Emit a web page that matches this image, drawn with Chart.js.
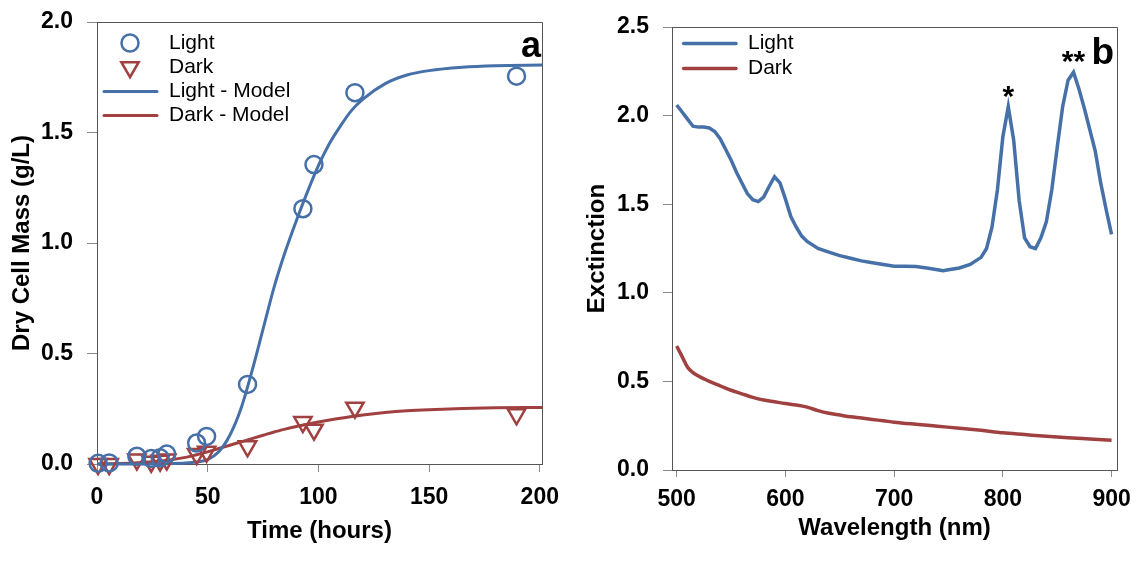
<!DOCTYPE html>
<html><head><meta charset="utf-8">
<script src="https://cdn.jsdelivr.net/npm/chart.js@4/dist/chart.umd.min.js"></script>
<style>
html,body{margin:0;padding:0;background:#fff;}
#wrap{position:relative;width:1144px;height:576px;overflow:hidden;}
.c{position:absolute;top:0;width:572px;height:576px;}
</style></head><body>
<div id="wrap">
<div class="c" style="left:0"><canvas id="ca" width="572" height="576"></canvas></div>
<div class="c" style="left:572px"><canvas id="cb" width="572" height="576"></canvas></div>
</div>
<script>
// ---------- Panel a data ----------
const sampleTime = [0.5, 5.5, 18, 24.5, 28.5, 31.5, 45, 49.5, 68, 93, 98, 116.5, 189.5];
const lightMass  = [0.003, 0.005, 0.035, 0.025, 0.028, 0.045, 0.095, 0.125, 0.36, 1.155, 1.355, 1.68, 1.755];
const darkMass   = [0.0, 0.0, 0.02, 0.01, 0.015, 0.02, 0.045, 0.055, 0.08, 0.19, 0.155, 0.255, 0.225];
const modelTime  = [0, 10, 20, 30, 40, 45, 50, 55, 60, 65, 70, 75, 80, 85, 90, 95, 100, 105, 110, 115, 120, 130, 140, 150, 165, 180, 201];
const lightModel = [0, 0, 0, 0.001, 0.004, 0.009, 0.02, 0.055, 0.13, 0.25, 0.42, 0.61, 0.8, 0.96, 1.1, 1.23, 1.35, 1.45, 1.53, 1.6, 1.65, 1.72, 1.76, 1.78, 1.795, 1.802, 1.805];
const darkModel  = [0, 0.002, 0.007, 0.015, 0.03, 0.042, 0.055, 0.07, 0.085, 0.1, 0.115, 0.13, 0.145, 0.158, 0.17, 0.18, 0.19, 0.199, 0.207, 0.215, 0.222, 0.233, 0.241, 0.246, 0.251, 0.254, 0.256];
const timeTicks  = [0, 50, 100, 150, 200];
const massTicks  = [0, 0.5, 1.0, 1.5, 2.0];
const legendA    = ['Light', 'Dark', 'Light - Model', 'Dark - Model'];

// ---------- Panel b data ----------
const wlLight  = [500,505,510,515,520,525,530,535,540,545,550,555,560,565,570,575,580,585,590,595,600,605,610,615,620,630,640,650,660,670,680,690,700,710,720,730,740,745,750,760,770,775,780,785,790,795,800,805,810,815,820,825,830,835,840,845,850,855,860,865,870,875,880,885,890,895,900];
const extLight = [2.06,2.02,1.98,1.94,1.935,1.935,1.93,1.91,1.87,1.81,1.75,1.68,1.62,1.56,1.525,1.515,1.54,1.6,1.655,1.62,1.53,1.43,1.37,1.32,1.29,1.25,1.23,1.21,1.195,1.18,1.17,1.16,1.15,1.15,1.148,1.14,1.13,1.125,1.13,1.14,1.16,1.18,1.2,1.25,1.37,1.58,1.88,2.05,1.86,1.52,1.31,1.26,1.25,1.31,1.4,1.58,1.82,2.05,2.2,2.245,2.15,2.04,1.92,1.8,1.62,1.47,1.33];
const wlDark   = [500,505,510,515,520,530,540,550,560,570,580,590,600,610,620,630,640,650,660,670,680,690,700,720,740,760,780,800,820,840,860,880,900];
const extDark  = [0.70,0.64,0.58,0.55,0.53,0.50,0.475,0.45,0.43,0.41,0.395,0.385,0.375,0.367,0.355,0.335,0.32,0.31,0.30,0.293,0.285,0.278,0.27,0.258,0.247,0.236,0.224,0.21,0.2,0.19,0.182,0.175,0.168];
const wlTicks  = [500, 600, 700, 800, 900];
const extTicks = [0, 0.5, 1.0, 1.5, 2.0, 2.5];
const legendB  = ['Light', 'Dark'];
const peakMarks = [{wl: 805, text: '*'}, {wl: 865, text: '**'}];

const BLUE = '#4670a8', RED = '#a04040';
const FAM = '"Liberation Sans", Arial, sans-serif';
const toXY = (xs, ys) => xs.map((x, i) => ({x, y: ys[i]}));

const framePlugin = {
  id: 'frame',
  beforeDatasetsDraw(chart) {
    const {ctx, chartArea: a} = chart;
    ctx.save(); ctx.strokeStyle = '#555'; ctx.lineWidth = 1;
    ctx.beginPath();
    ctx.moveTo(a.left, a.top + 0.5); ctx.lineTo(a.right + 0.5, a.top + 0.5); ctx.lineTo(a.right + 0.5, a.bottom);
    ctx.stroke(); ctx.restore();
  }
};

const legendPlugin = {
  id: 'inlineLegend',
  afterDatasetsDraw(chart, args, o) {
    if (!o || !o.items) return;
    const {ctx, chartArea: a} = chart;
    ctx.save();
    o.items.forEach((it, i) => {
      const ds = chart.data.datasets[it.ds];
      const y = a.top + o.top + i * o.gap;
      if (it.line) {
        ctx.strokeStyle = ds.borderColor; ctx.lineWidth = ds.borderWidth; ctx.lineCap = 'round';
        ctx.beginPath(); ctx.moveTo(a.left + o.lineStart, y); ctx.lineTo(a.left + o.lineEnd, y); ctx.stroke();
      } else {
        ctx.strokeStyle = ds.borderColor; ctx.lineWidth = ds.borderWidth; ctx.fillStyle = 'rgba(0,0,0,0)';
        Chart.helpers.drawPoint(ctx, {pointStyle: ds.pointStyle, rotation: ds.pointRotation || 0, radius: ds.pointRadius, borderWidth: ds.borderWidth}, a.left + o.markerX, y);
      }
      ctx.fillStyle = '#000'; ctx.font = o.font; ctx.textBaseline = 'middle'; ctx.textAlign = 'left';
      ctx.fillText(it.label, a.left + o.textX, y);
    });
    ctx.restore();
  }
};

const notesPlugin = {
  id: 'notes',
  afterDatasetsDraw(chart, args, o) {
    if (!o) return;
    const {ctx, chartArea: a} = chart;
    ctx.save(); ctx.fillStyle = '#000';
    if (o.letter) {
      ctx.font = 'bold ' + o.letterSize + 'px ' + FAM; ctx.textAlign = 'right'; ctx.textBaseline = 'alphabetic';
      ctx.fillText(o.letter, a.right - o.letterRight, a.top + o.letterBase);
    }
    if (o.peaks) {
      const ds = chart.data.datasets[0].data;
      ctx.font = 'bold 30px ' + FAM; ctx.textAlign = 'center'; ctx.textBaseline = 'alphabetic';
      o.peaks.forEach(p => {
        const pt = ds.find(d => d.x === p.wl);
        const px = chart.scales.x.getPixelForValue(pt.x), py = chart.scales.y.getPixelForValue(pt.y);
        ctx.fillText(p.text, px, py - 1);
      });
    }
    ctx.restore();
  }
};

function axis(min, max, tickVals, fmt, opts) {
  return {
    type: 'linear', min, max,
    afterBuildTicks: s => { s.ticks = tickVals.map(v => ({value: v})); },
    afterFit: s => {
      if (opts.w !== undefined) s.width = opts.w;
      if (opts.h !== undefined) s.height = opts.h;
      s.paddingTop = 0; s.paddingBottom = 0; s.paddingLeft = 0; s.paddingRight = 0;
    },
    border: {display: true, color: '#555', width: 1},
    grid: {display: true, drawOnChartArea: false, drawTicks: true, tickLength: opts.tick, color: '#8a8a8a', lineWidth: 1},
    ticks: {color: '#000', font: {family: FAM, size: 23, weight: 'bold'}, padding: opts.pad, autoSkip: false, maxRotation: 0, callback: fmt},
    title: {display: true, text: opts.title, color: '#000', font: {family: FAM, size: 24, weight: 'bold'}, padding: opts.tpad}
  };
}

Chart.defaults.font.family = FAM;

new Chart(document.getElementById('ca'), {
  type: 'scatter',
  data: {datasets: [
    {label: legendA[0], data: toXY(sampleTime, lightMass), pointStyle: 'circle', pointRadius: 8.5, borderWidth: 2.5, borderColor: BLUE, backgroundColor: 'rgba(0,0,0,0)', showLine: false, clip: false},
    {label: legendA[1], data: toXY(sampleTime, darkMass), pointStyle: 'triangle', pointRotation: 180, pointRadius: 10, borderWidth: 2.5, borderColor: RED, backgroundColor: 'rgba(0,0,0,0)', showLine: false, clip: false},
    {label: legendA[2], data: toXY(modelTime, lightModel), showLine: true, pointRadius: 0, borderWidth: 3, borderColor: BLUE, cubicInterpolationMode: 'monotone', clip: false},
    {label: legendA[3], data: toXY(modelTime, darkModel), showLine: true, pointRadius: 0, borderWidth: 3, borderColor: RED, cubicInterpolationMode: 'monotone', clip: false}
  ]},
  options: {
    responsive: false, animation: false, devicePixelRatio: 1,
    layout: {padding: {left: 0, top: 22, right: 30, bottom: 0}},
    scales: {
      x: axis(0, 201, timeTicks, v => String(v), {h: 112, tick: 8, pad: 12, title: 'Time (hours)', tpad: {top: 0, bottom: 30}}),
      y: axis(0, 2, massTicks, v => v.toFixed(1), {w: 97, tick: 10, pad: 14, title: 'Dry Cell Mass (g/L)', tpad: {top: 8, bottom: 0}})
    },
    plugins: {
      legend: {display: false}, tooltip: {enabled: false},
      inlineLegend: {items: [{ds: 0, label: legendA[0]}, {ds: 1, label: legendA[1]}, {ds: 2, label: legendA[2], line: true}, {ds: 3, label: legendA[3], line: true}],
        top: 21, gap: 24.2, markerX: 33, lineStart: 7, lineEnd: 60, textX: 72, font: '21px ' + FAM},
      notes: {letter: 'a', letterSize: 36, letterRight: 1, letterBase: 35}
    }
  },
  plugins: [framePlugin, legendPlugin, notesPlugin]
});

new Chart(document.getElementById('cb'), {
  type: 'scatter',
  data: {datasets: [
    {label: legendB[0], data: toXY(wlLight, extLight), showLine: true, pointRadius: 0, borderWidth: 3.5, borderColor: BLUE, tension: 0, clip: false},
    {label: legendB[1], data: toXY(wlDark, extDark), showLine: true, pointRadius: 0, borderWidth: 3.5, borderColor: RED, cubicInterpolationMode: 'monotone', clip: false}
  ]},
  options: {
    responsive: false, animation: false, devicePixelRatio: 1,
    layout: {padding: {left: 0, top: 27, right: 27, bottom: 0}},
    scales: {
      x: axis(495.7, 905, wlTicks, v => String(v), {h: 106, tick: 7, pad: 9, title: 'Wavelength (nm)', tpad: {top: 0, bottom: 33}}),
      y: axis(0, 2.5, extTicks, v => v.toFixed(1), {w: 100, tick: 9, pad: 14, title: 'Exctinction', tpad: {top: 10.5, bottom: 0}})
    },
    plugins: {
      legend: {display: false}, tooltip: {enabled: false},
      inlineLegend: {items: [{ds: 0, label: legendB[0], line: true}, {ds: 1, label: legendB[1], line: true}],
        top: 16.5, gap: 25, markerX: 0, lineStart: 11.6, lineEnd: 64, textX: 76, font: '21px ' + FAM},
      notes: {letter: 'b', letterSize: 37, letterRight: 3, letterBase: 37, peaks: peakMarks}
    }
  },
  plugins: [framePlugin, legendPlugin, notesPlugin]
});
</script>
</body></html>
